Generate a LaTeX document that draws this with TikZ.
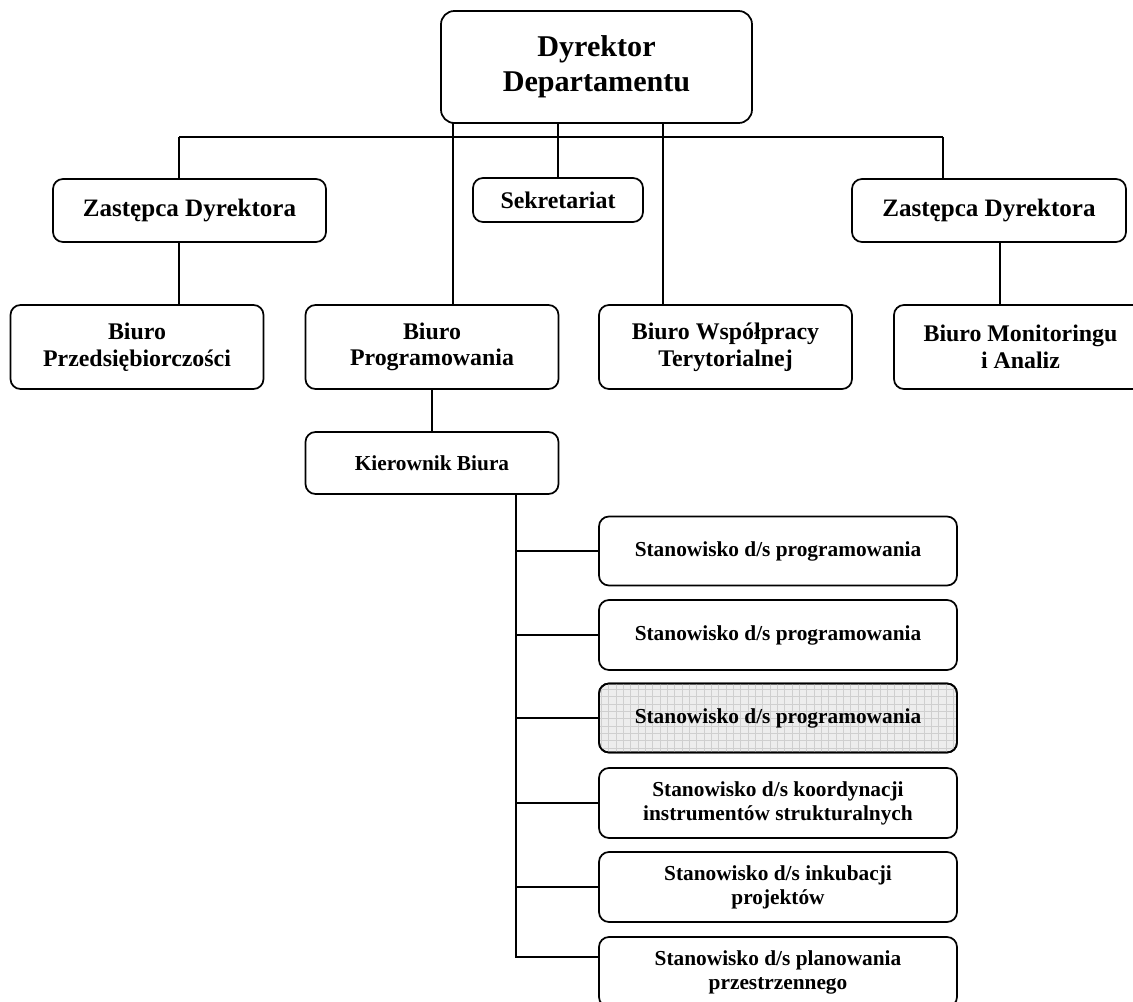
\documentclass[tikz,border=0pt]{standalone}
\usepackage{fontspec}
\setmainfont{Liberation Serif}
\begin{document}
\begin{tikzpicture}[x=0.75pt,y=-0.75pt,
  box/.style={draw=black, line width=1.3pt, rounded corners=7.5pt, inner sep=0pt, outer sep=0pt,
    align=center, font=\bfseries},
  conn/.style={draw=black, line width=1.25pt},
  big/.style={font=\fontsize{17.9}{20}\selectfont\bfseries},
  small/.style={font=\fontsize{16}{18}\selectfont\bfseries}
]
\useasboundingbox (0,0) rectangle (1133,1002);

% nodes
\node[box, rounded corners=10pt, minimum width=233.25pt, minimum height=84pt,
  font=\fontsize{22.6}{26}\selectfont\bfseries] (top) at (596.5,67) {Dyrektor\\Departamentu};
\node[box, minimum width=204.75pt, minimum height=47.25pt, font=\fontsize{18.8}{20}\selectfont\bfseries] (zl) at (189.5,210.5) {Zastępca Dyrektora};
\node[box, minimum width=127.5pt, minimum height=33pt, font=\fontsize{17.9}{19}\selectfont\bfseries] (sek) at (558,200) {Sekretariat};
\node[box, minimum width=205.5pt, minimum height=47.25pt, font=\fontsize{18.8}{20}\selectfont\bfseries] (zr) at (989,210.5) {Zastępca Dyrektora};

\node[box, big, minimum width=189.75pt, minimum height=63pt] (bp) at (137,347) {Biuro\\Przedsiębiorczości};
\node[box, big, minimum width=189.75pt, minimum height=63pt] (bprog) at (432,347) {Biuro\\Programowania};
\node[box, big, minimum width=189.75pt, minimum height=63pt] (bws) at (725.5,347) {Biuro Współpracy\\Terytorialnej};
\node[box, big, minimum width=189.75pt, minimum height=63pt] (bmon) at (1020.5,347) {Biuro Monitoringu\\i Analiz};

\node[box, small, minimum width=189.75pt, minimum height=46.5pt] (kier) at (432,463) {Kierownik Biura};

\node[box, small, minimum width=268.5pt, minimum height=51.75pt] (s1) at (778,551) {Stanowisko d/s programowania};
\node[box, small, minimum width=268.5pt, minimum height=52.5pt] (s2) at (778,635) {Stanowisko d/s programowania};
\node[box, small, minimum width=268.5pt, minimum height=51.75pt, fill=gray!14] (s3) at (778,718) {};
\begin{scope}
  \clip[rounded corners=7.5pt] (s3.south west) rectangle (s3.north east);
  \draw[gray!38, line width=0.35pt, step=5.5pt] ([shift={(-10pt,-10pt)}]s3.south west) grid ([shift={(10pt,10pt)}]s3.north east);
\end{scope}
\draw[line width=1.3pt, rounded corners=7.5pt] (s3.south west) rectangle (s3.north east);
\node[small] at (s3.center) {Stanowisko d/s programowania};
\node[box, small, minimum width=268.5pt, minimum height=52.5pt] (s4) at (778,803) {Stanowisko d/s koordynacji\\instrumentów strukturalnych};
\node[box, small, minimum width=268.5pt, minimum height=52.5pt] (s5) at (778,887) {Stanowisko d/s inkubacji\\projektów};
\node[box, small, minimum width=268.5pt, minimum height=52.5pt] (s6) at (778,972) {Stanowisko d/s planowania\\przestrzennego};

% coordinates
\coordinate (busL) at (179,137);
\coordinate (busR) at (943,137);
\coordinate (v1) at (453,0);
\coordinate (v3) at (663,0);
\coordinate (v4) at (1000,0);
\coordinate (tk) at (516,494);
\coordinate (tkend) at (516,957);

% connectors
\draw[conn] (busL) -- (busR);
\draw[conn] (busL) -- (busL |- zl.north);
\draw[conn] (busR) -- (busR |- zr.north);
\draw[conn] (v1 |- top.south) -- (v1 |- bprog.north);
\draw[conn] (top.south -| sek.north) -- (sek.north);
\draw[conn] (v3 |- top.south) -- (v3 |- bws.north);
\draw[conn] (busL |- zl.south) -- (busL |- bp.north);
\draw[conn] (v4 |- zr.south) -- (v4 |- bmon.north);
\draw[conn] (bprog.south) -- (kier.north);
\draw[conn] (tk) -- (tkend) -- (tkend -| s6.west);
\draw[conn] (s1.west) -- (s1.west -| tk);
\draw[conn] (s2.west) -- (s2.west -| tk);
\draw[conn] (s3.west) -- (s3.west -| tk);
\draw[conn] (s4.west) -- (s4.west -| tk);
\draw[conn] (s5.west) -- (s5.west -| tk);
\end{tikzpicture}
\end{document}
